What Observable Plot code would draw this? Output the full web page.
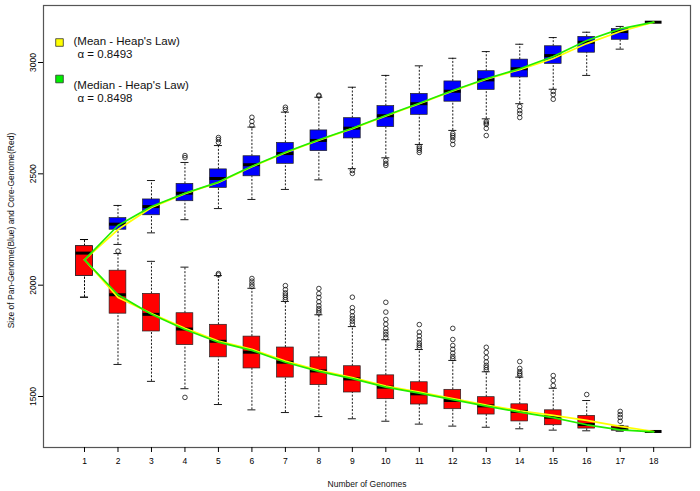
<!DOCTYPE html>
<html><head><meta charset="utf-8">
<script src="https://cdn.jsdelivr.net/npm/d3@7"></script>
<script src="https://cdn.jsdelivr.net/npm/@observablehq/plot@0.6"></script>
<style>body{margin:0;background:#fff;}</style>
</head><body><div id="chart"></div>
<script>
// ---- Data ----
const genomes = [1,2,3,4,5,6,7,8,9,10,11,12,13,14,15,16,17,18];
const yTicks = [1500, 2000, 2500, 3000];

// Pan-genome (blue) box statistics
const panLo  = [1946,2183,2235,2294,2344,2385,2430,2473,2523,2572,2632,2695,2747,2815,2880,2942,3060,3181];
const panQ1  = [2042,2249,2314,2377,2437,2489,2545,2602,2659,2710,2765,2824,2877,2933,2994,3044,3102,3181];
const panMed = [2144,2274,2353,2413,2479,2541,2591,2650,2705,2761,2815,2871,2922,2972,3031,3091,3139,3181];
const panQ3  = [2175,2301,2385,2455,2520,2579,2639,2695,2750,2804,2859,2915,2961,3013,3073,3115,3150,3181];
const panHi  = [2205,2358,2470,2551,2627,2710,2777,2844,2889,2942,2985,3019,3049,3082,3112,3136,3162,3181];
const panOutN = [4,4, 5,5,5, 6,6,6, 7,7, 8,8, 9,9, 10,10,10, 11,11,11,11, 12,12,12,12,12, 13,13,13,13,13, 14,14,14,14, 15,15,15];
const panOutV = [2573,2582, 2641,2654,2663, 2717,2735,2754, 2789,2799, 2849,2853, 2515,2502, 2560,2547,2538, 2623,2615,2606,2596, 2681,2672,2663,2650,2632, 2735,2728,2722,2704,2672, 2802,2784,2771,2753, 2870,2856,2835];

// Core-genome (red) box statistics
const coreLo  = [1946,1644,1568,1535,1464,1440,1428,1410,1400,1389,1376,1367,1362,1355,1349,1346,1344,1343];
const coreQ1  = [2042,1872,1792,1731,1676,1626,1585,1551,1518,1488,1464,1443,1419,1388,1371,1356,1347,1343];
const coreMed = [2144,1957,1869,1803,1748,1699,1654,1615,1579,1542,1512,1482,1458,1433,1407,1374,1355,1343];
const coreQ3  = [2175,2065,1961,1874,1822,1769,1720,1676,1636,1595,1564,1530,1497,1465,1438,1413,1365,1343];
const coreHi  = [2205,2142,2107,2081,2043,1986,1927,1867,1814,1755,1711,1662,1611,1587,1537,1482,1370,1343];
const coreOutN = [2, 4, 5,5, 6,6,6,6, 7,7,7,7,7,7, 8,8,8,8,8,8,8,8, 9,9,9,9,9,9,9, 10,10,10,10,10,10,10,10, 11,11,11,11,11,11,11, 12,12,12,12,12,12,12, 13,13,13,13,13,13,13, 14,14,14,14,14, 15,15,15, 16, 17,17,17,17];
const coreOutV = [2153, 1496, 2046,2052, 1994,2005,2018,2030, 1935,1945,1955,1965,1980,1998, 1875,1885,1895,1908,1925,1945,1962,1985, 1825,1838,1850,1862,1881,1899,1946, 1765,1778,1790,1805,1825,1846,1879,1923, 1720,1730,1740,1755,1772,1789,1823, 1670,1680,1695,1712,1729,1756,1806, 1620,1630,1640,1655,1675,1698,1721, 1595,1603,1612,1626,1657, 1549,1572,1594, 1509, 1389,1406,1419,1433];

// Heap's law fits
const medianFitPan  = [2114,2268,2353,2413,2463,2534,2597,2653,2705,2762,2817,2874,2927,2972,3027,3099,3151,3181];
const medianFitCore = [2114,1957,1869,1801,1744,1707,1654,1613,1580,1542,1515,1486,1457,1430,1405,1373,1350,1341];
const meanFitPan    = [2114,2250,2349,2411,2461,2532,2595,2651,2703,2760,2815,2872,2925,2968,3018,3085,3139,3181];
const meanFitCore   = [2114,1945,1873,1806,1749,1712,1659,1618,1585,1547,1520,1491,1462,1436,1415,1393,1366,1343];

const legendLabels = ["(Mean - Heap's Law)", "(Median - Heap's Law)"];
const legendAlphas = ["α = 0.8493", "α = 0.8498"];
const legendColors = ["#ffff00", "#00ee00"];
const xTitle = "Number of Genomes";
const yTitle = "Size of Pan-Genome(Blue) and Core-Genome(Red)";

// ---- Build tables ----
const mkStats = (lo,q1,med,q3,hi) => genomes.map((n,i)=>({n, lo:lo[i], q1:q1[i], med:med[i], q3:q3[i], hi:hi[i]}));
const panStats = mkStats(panLo, panQ1, panMed, panQ3, panHi);
const coreStats = mkStats(coreLo, coreQ1, coreMed, coreQ3, coreHi);
const panOut = panOutN.map((n,i)=>({n, v:panOutV[i]}));
const coreOut = coreOutN.map((n,i)=>({n, v:coreOutV[i]}));
const series = (arr) => genomes.map((n,i)=>({n, v:arr[i]}));

const BW = 0.25, SW = 0.12;
function boxMarks(stats, outs, fill) {
  const dash = {stroke:"#000", strokeWidth:0.9, strokeDasharray:"2,1.6"};
  return [
    Plot.ruleX(stats, {x:"n", y1:"q3", y2:"hi", ...dash}),
    Plot.ruleX(stats, {x:"n", y1:"lo", y2:"q1", ...dash}),
    Plot.ruleY(stats, {y:"hi", x1:d=>d.n-SW, x2:d=>d.n+SW, stroke:"#000", strokeWidth:0.9}),
    Plot.ruleY(stats, {y:"lo", x1:d=>d.n-SW, x2:d=>d.n+SW, stroke:"#000", strokeWidth:0.9}),
    Plot.rect(stats.filter(d=>d.q3>d.q1), {x1:d=>d.n-BW, x2:d=>d.n+BW, y1:"q1", y2:"q3", fill, stroke:"#222", strokeWidth:0.7}),
    Plot.ruleY(stats, {y:"med", x1:d=>d.n-BW, x2:d=>d.n+BW, stroke:"#000", strokeWidth:3}),
    Plot.dot(outs, {x:"n", y:"v", r:2.3, stroke:"#111", strokeWidth:0.8, fill:"none"})
  ];
}

const fmt = d => String(d);
const txt = {textAnchor:"start", fontSize:11.5, fill:"#111"};
const chart = Plot.plot({
  width: 700, height: 491,
  marginLeft: 43, marginRight: 10, marginTop: 5, marginBottom: 44,
  style: {fontFamily: "'Liberation Sans', Arial, sans-serif", background: "#fff"},
  x: {domain: [-0.225, 19.1]},
  y: {domain: [1271, 3256]},
  marks: [
    Plot.frame({stroke:"#555", strokeWidth:1.2}),
    Plot.axisX({ticks: genomes, tickFormat: fmt, tickSize: 5, tickPadding: 5, fontSize: 8.5, label: null}),
    Plot.axisY({ticks: yTicks, tickFormat: fmt, tickSize: 5, tickPadding: 3, tickRotate: -90, fontSize: 8.5, label: null}),
    Plot.text([xTitle], {frameAnchor:"bottom", dy:39, text:d=>d, fontSize:8.5, fill:"#111"}),
    Plot.text([yTitle], {frameAnchor:"left", dx:-32, dy:4, rotate:-90, textAnchor:"middle", text:d=>d, fontSize:8.5, fill:"#111"}),
    ...boxMarks(panStats, panOut, "#0000ff"),
    ...boxMarks(coreStats, coreOut, "#ff0000"),
    Plot.line(series(meanFitPan), {x:"n", y:"v", stroke:"#ffff00", strokeWidth:1.7}),
    Plot.line(series(meanFitCore), {x:"n", y:"v", stroke:"#ffff00", strokeWidth:1.7}),
    Plot.line(series(medianFitPan), {x:"n", y:"v", stroke:"#22ee00", strokeWidth:1.7}),
    Plot.line(series(medianFitCore), {x:"n", y:"v", stroke:"#22ee00", strokeWidth:1.7}),
    // legend
    Plot.dot([legendColors[0]], {frameAnchor:"top-left", dx:16, dy:37, fill:d=>d, stroke:"#333", strokeWidth:0.8, symbol:"square", r:4.3}),
    Plot.dot([legendColors[1]], {frameAnchor:"top-left", dx:16, dy:73.5, fill:d=>d, stroke:"#333", strokeWidth:0.8, symbol:"square", r:4.3}),
    Plot.text([legendLabels[0]], {frameAnchor:"top-left", dx:30, dy:31, text:d=>d, ...txt}),
    Plot.text([legendAlphas[0]], {frameAnchor:"top-left", dx:34, dy:44.5, text:d=>d, ...txt}),
    Plot.text([legendLabels[1]], {frameAnchor:"top-left", dx:30, dy:75.5, text:d=>d, ...txt}),
    Plot.text([legendAlphas[1]], {frameAnchor:"top-left", dx:34, dy:88, text:d=>d, ...txt})
  ]
});
document.getElementById("chart").append(chart);
</script>
</body></html>
